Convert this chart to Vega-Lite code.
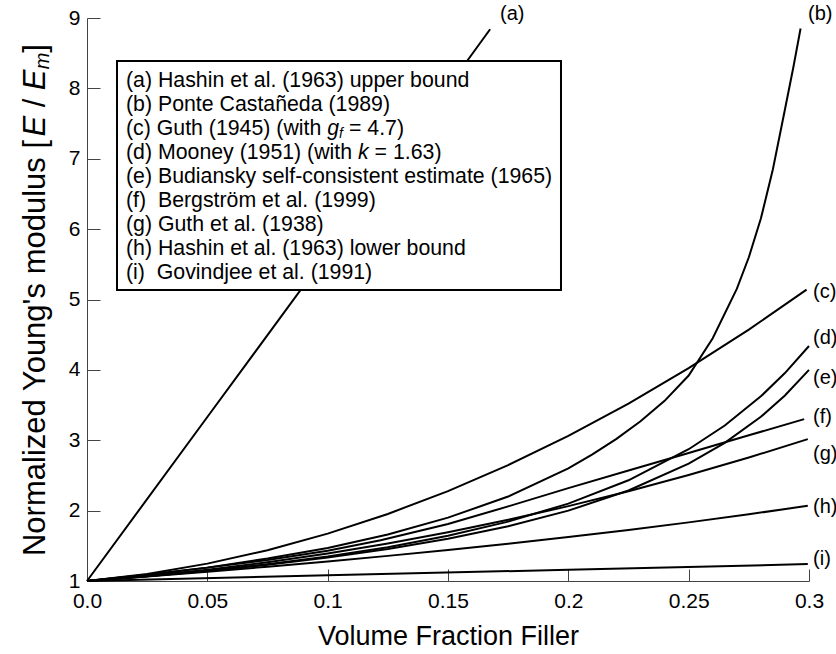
{
  "$schema": "https://vega.github.io/schema/vega-lite/v6.json",
  "width": 722,
  "height": 563,
  "autosize": {"type": "none"},
  "padding": {"left": 87, "top": 18, "right": 27, "bottom": 73},
  "config": {
    "view": {"stroke": null},
    "axis": {"grid": false, "domainColor": "#444", "tickColor": "#444", "domainWidth": 1, "tickWidth": 1, "labelColor": "#000", "titleColor": "#000"}
  },
  "datasets": {
    "curves": [
      {"c": "a", "v": 0, "E": 1}, {"c": "a", "v": 0.05, "E": 3.33}, {"c": "a", "v": 0.1, "E": 5.66}, {"c": "a", "v": 0.1675, "E": 8.84},
      {"c": "b", "v": 0, "E": 1}, {"c": "b", "v": 0.025, "E": 1.09}, {"c": "b", "v": 0.05, "E": 1.19}, {"c": "b", "v": 0.075, "E": 1.32}, {"c": "b", "v": 0.1, "E": 1.47}, {"c": "b", "v": 0.125, "E": 1.66}, {"c": "b", "v": 0.15, "E": 1.9}, {"c": "b", "v": 0.175, "E": 2.2}, {"c": "b", "v": 0.2, "E": 2.6}, {"c": "b", "v": 0.21, "E": 2.8}, {"c": "b", "v": 0.22, "E": 3.02}, {"c": "b", "v": 0.23, "E": 3.27}, {"c": "b", "v": 0.24, "E": 3.56}, {"c": "b", "v": 0.25, "E": 3.92}, {"c": "b", "v": 0.26, "E": 4.45}, {"c": "b", "v": 0.27, "E": 5.15}, {"c": "b", "v": 0.275, "E": 5.6}, {"c": "b", "v": 0.28, "E": 6.15}, {"c": "b", "v": 0.285, "E": 6.85}, {"c": "b", "v": 0.29, "E": 7.7}, {"c": "b", "v": 0.2935, "E": 8.3}, {"c": "b", "v": 0.2965, "E": 8.85},
      {"c": "c", "v": 0, "E": 1}, {"c": "c", "v": 0.025, "E": 1.101}, {"c": "c", "v": 0.05, "E": 1.247}, {"c": "c", "v": 0.075, "E": 1.438}, {"c": "c", "v": 0.1, "E": 1.673}, {"c": "c", "v": 0.125, "E": 1.953}, {"c": "c", "v": 0.15, "E": 2.278}, {"c": "c", "v": 0.175, "E": 2.647}, {"c": "c", "v": 0.2, "E": 3.061}, {"c": "c", "v": 0.225, "E": 3.52}, {"c": "c", "v": 0.25, "E": 4.024}, {"c": "c", "v": 0.275, "E": 4.572}, {"c": "c", "v": 0.299, "E": 5.141},
      {"c": "d", "v": 0, "E": 1}, {"c": "d", "v": 0.025, "E": 1.067}, {"c": "d", "v": 0.05, "E": 1.146}, {"c": "d", "v": 0.075, "E": 1.238}, {"c": "d", "v": 0.1, "E": 1.348}, {"c": "d", "v": 0.125, "E": 1.481}, {"c": "d", "v": 0.15, "E": 1.643}, {"c": "d", "v": 0.175, "E": 1.844}, {"c": "d", "v": 0.2, "E": 2.1}, {"c": "d", "v": 0.225, "E": 2.431}, {"c": "d", "v": 0.25, "E": 2.872}, {"c": "d", "v": 0.265, "E": 3.21}, {"c": "d", "v": 0.28, "E": 3.624}, {"c": "d", "v": 0.29, "E": 3.955}, {"c": "d", "v": 0.3, "E": 4.339},
      {"c": "e", "v": 0, "E": 1}, {"c": "e", "v": 0.025, "E": 1.067}, {"c": "e", "v": 0.05, "E": 1.143}, {"c": "e", "v": 0.075, "E": 1.231}, {"c": "e", "v": 0.1, "E": 1.333}, {"c": "e", "v": 0.125, "E": 1.455}, {"c": "e", "v": 0.15, "E": 1.6}, {"c": "e", "v": 0.175, "E": 1.778}, {"c": "e", "v": 0.2, "E": 2.0}, {"c": "e", "v": 0.225, "E": 2.286}, {"c": "e", "v": 0.25, "E": 2.667}, {"c": "e", "v": 0.265, "E": 2.963}, {"c": "e", "v": 0.28, "E": 3.333}, {"c": "e", "v": 0.29, "E": 3.636}, {"c": "e", "v": 0.3, "E": 4.0},
      {"c": "f", "v": 0, "E": 1}, {"c": "f", "v": 0.025, "E": 1.09}, {"c": "f", "v": 0.05, "E": 1.19}, {"c": "f", "v": 0.075, "E": 1.3}, {"c": "f", "v": 0.1, "E": 1.43}, {"c": "f", "v": 0.122, "E": 1.58}, {"c": "f", "v": 0.15, "E": 1.81}, {"c": "f", "v": 0.175, "E": 2.06}, {"c": "f", "v": 0.2, "E": 2.32}, {"c": "f", "v": 0.225, "E": 2.57}, {"c": "f", "v": 0.25, "E": 2.82}, {"c": "f", "v": 0.275, "E": 3.07}, {"c": "f", "v": 0.298, "E": 3.3},
      {"c": "g", "v": 0, "E": 1}, {"c": "g", "v": 0.025, "E": 1.071}, {"c": "g", "v": 0.05, "E": 1.16}, {"c": "g", "v": 0.075, "E": 1.267}, {"c": "g", "v": 0.1, "E": 1.391}, {"c": "g", "v": 0.125, "E": 1.533}, {"c": "g", "v": 0.15, "E": 1.692}, {"c": "g", "v": 0.175, "E": 1.869}, {"c": "g", "v": 0.2, "E": 2.064}, {"c": "g", "v": 0.225, "E": 2.276}, {"c": "g", "v": 0.25, "E": 2.506}, {"c": "g", "v": 0.275, "E": 2.754}, {"c": "g", "v": 0.2995, "E": 3.016},
      {"c": "h", "v": 0, "E": 1}, {"c": "h", "v": 0.025, "E": 1.064}, {"c": "h", "v": 0.05, "E": 1.132}, {"c": "h", "v": 0.075, "E": 1.203}, {"c": "h", "v": 0.1, "E": 1.278}, {"c": "h", "v": 0.125, "E": 1.357}, {"c": "h", "v": 0.15, "E": 1.441}, {"c": "h", "v": 0.175, "E": 1.53}, {"c": "h", "v": 0.2, "E": 1.625}, {"c": "h", "v": 0.225, "E": 1.726}, {"c": "h", "v": 0.25, "E": 1.833}, {"c": "h", "v": 0.275, "E": 1.948}, {"c": "h", "v": 0.2995, "E": 2.069},
      {"c": "i", "v": 0, "E": 1}, {"c": "i", "v": 0.1, "E": 1.08}, {"c": "i", "v": 0.2, "E": 1.16}, {"c": "i", "v": 0.2995, "E": 1.24}
    ],
    "curveLabels": [
      {"t": "(a)", "v": 0.1716, "E": 9.05},
      {"t": "(b)", "v": 0.2996, "E": 9.05},
      {"t": "(c)", "v": 0.3017, "E": 5.107},
      {"t": "(d)", "v": 0.3017, "E": 4.45},
      {"t": "(e)", "v": 0.3017, "E": 3.885},
      {"t": "(f)", "v": 0.3017, "E": 3.33},
      {"t": "(g)", "v": 0.3017, "E": 2.8},
      {"t": "(h)", "v": 0.3017, "E": 2.05},
      {"t": "(i)", "v": 0.3017, "E": 1.31}
    ],
    "box": [{"v": 0.01247, "v2": 0.19695, "E": 8.389, "E2": 5.135}],
    "legendText": [
      {"t": "(a) Hashin et al. (1963) upper bound", "v": 0.016206, "E": 8.1048},
      {"t": "(b) Ponte Castañeda (1989)", "v": 0.016206, "E": 7.7638},
      {"t": "(c) Guth (1945) (with", "v": 0.016206, "E": 7.4227},
      {"t": "= 4.7)", "v": 0.10886, "E": 7.4227},
      {"t": "(d) Mooney (1951) (with", "v": 0.016206, "E": 7.0817},
      {"t": "= 1.63)", "v": 0.1195, "E": 7.0817},
      {"t": "(e) Budiansky self-consistent estimate (1965)", "v": 0.016206, "E": 6.7407},
      {"t": "(f)\u00a0 Bergström et al. (1999)", "v": 0.016206, "E": 6.3996},
      {"t": "(g) Guth et al. (1938)", "v": 0.016206, "E": 6.0586},
      {"t": "(h) Hashin et al. (1963) lower bound", "v": 0.016206, "E": 5.7176},
      {"t": "(i)\u00a0 Govindjee et al. (1991)", "v": 0.016206, "E": 5.3766}
    ],
    "legendItalic": [
      {"t": "g", "v": 0.09981, "E": 7.4227},
      {"t": "k", "v": 0.1126, "E": 7.0817}
    ],
    "legendSub": [
      {"t": "f", "v": 0.10471, "E": 7.4227}
    ],
    "yTitle": [
      {"t": "Normalized Young's modulus [", "v": -0.02119, "E": 1.355},
      {"t": "/", "v": -0.02119, "E": 7.731},
      {"t": "]", "v": -0.02119, "E": 8.507}
    ],
    "yTitleItalic": [
      {"t": "E", "v": -0.02119, "E": 7.315},
      {"t": "E", "v": -0.02119, "E": 7.975}
    ],
    "yTitleSub": [
      {"t": "m", "v": -0.02119, "E": 8.27}
    ]
  },
  "layer": [
    {
      "data": {"name": "curves"},
      "mark": {"type": "line", "color": "#000", "strokeWidth": 2},
      "encoding": {
        "x": {"field": "v", "type": "quantitative", "scale": {"domain": [0, 0.3], "nice": false, "zero": false},
          "axis": {"values": [0, 0.05, 0.1, 0.15, 0.2, 0.25, 0.3], "labelExpr": "datum.value === 0 ? '0.0' : toString(round(datum.value * 100) / 100)", "tickSize": -12, "labelPadding": 21, "labelFont": "Liberation Sans", "labelFontSize": 21, "labelFlush": false, "title": "Volume Fraction Filler", "titleFont": "Liberation Sans", "titleFontSize": 27, "titleFontWeight": "normal", "titlePadding": 12}},
        "y": {"field": "E", "type": "quantitative", "scale": {"domain": [1, 9], "nice": false, "zero": false},
          "axis": {"values": [1, 2, 3, 4, 5, 6, 7, 8, 9], "format": "d", "tickSize": -13, "labelPadding": 20, "labelFont": "Liberation Sans", "labelFontSize": 21, "labelFlush": false, "title": null}},
        "detail": {"field": "c"}
      }
    },
    {
      "data": {"name": "box"},
      "mark": {"type": "rect", "fill": "#fff", "stroke": "#000", "strokeWidth": 2},
      "encoding": {
        "x": {"field": "v", "type": "quantitative"},
        "x2": {"field": "v2"},
        "y": {"field": "E", "type": "quantitative"},
        "y2": {"field": "E2"}
      }
    },
    {
      "data": {"name": "legendText"},
      "mark": {"type": "text", "align": "left", "baseline": "middle", "font": "Liberation Sans", "fontSize": 21.3, "color": "#000"},
      "encoding": {
        "x": {"field": "v", "type": "quantitative"},
        "y": {"field": "E", "type": "quantitative"},
        "text": {"field": "t"}
      }
    },
    {
      "data": {"name": "legendItalic"},
      "mark": {"type": "text", "align": "left", "baseline": "middle", "font": "Liberation Sans", "fontSize": 21.3, "fontStyle": "italic", "color": "#000"},
      "encoding": {
        "x": {"field": "v", "type": "quantitative"},
        "y": {"field": "E", "type": "quantitative"},
        "text": {"field": "t"}
      }
    },
    {
      "data": {"name": "legendSub"},
      "mark": {"type": "text", "align": "left", "baseline": "middle", "font": "Liberation Sans", "fontSize": 14, "fontStyle": "italic", "dy": 5, "color": "#000"},
      "encoding": {
        "x": {"field": "v", "type": "quantitative"},
        "y": {"field": "E", "type": "quantitative"},
        "text": {"field": "t"}
      }
    },
    {
      "data": {"name": "curveLabels"},
      "mark": {"type": "text", "align": "left", "baseline": "middle", "font": "Liberation Sans", "fontSize": 20, "color": "#000"},
      "encoding": {
        "x": {"field": "v", "type": "quantitative"},
        "y": {"field": "E", "type": "quantitative"},
        "text": {"field": "t"}
      }
    },
    {
      "data": {"name": "yTitle"},
      "mark": {"type": "text", "align": "left", "baseline": "middle", "angle": 270, "font": "Liberation Sans", "fontSize": 31, "color": "#000"},
      "encoding": {
        "x": {"field": "v", "type": "quantitative"},
        "y": {"field": "E", "type": "quantitative"},
        "text": {"field": "t"}
      }
    },
    {
      "data": {"name": "yTitleItalic"},
      "mark": {"type": "text", "align": "left", "baseline": "middle", "angle": 270, "font": "Liberation Sans", "fontSize": 31, "fontStyle": "italic", "color": "#000"},
      "encoding": {
        "x": {"field": "v", "type": "quantitative"},
        "y": {"field": "E", "type": "quantitative"},
        "text": {"field": "t"}
      }
    },
    {
      "data": {"name": "yTitleSub"},
      "mark": {"type": "text", "align": "left", "baseline": "middle", "angle": 270, "font": "Liberation Sans", "fontSize": 20, "fontStyle": "italic", "dy": 7, "color": "#000"},
      "encoding": {
        "x": {"field": "v", "type": "quantitative"},
        "y": {"field": "E", "type": "quantitative"},
        "text": {"field": "t"}
      }
    }
  ]
}
